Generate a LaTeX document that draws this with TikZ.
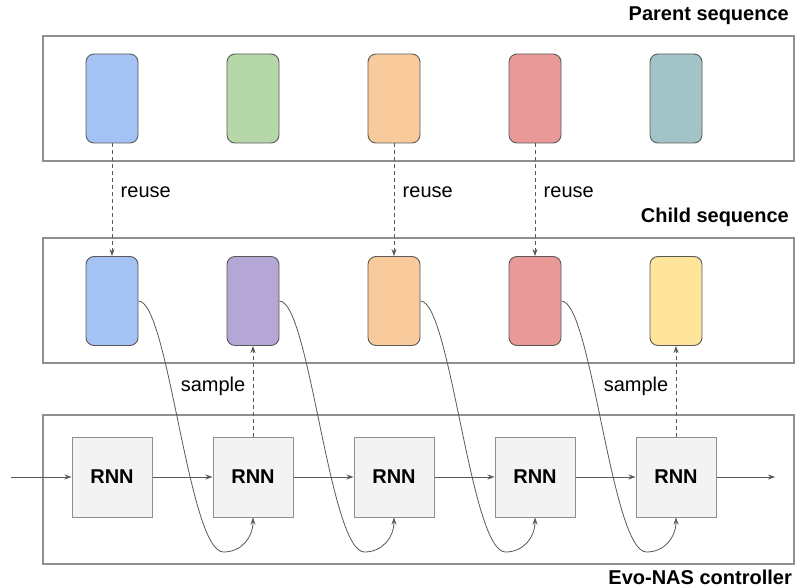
\documentclass[tikz,border=0pt]{standalone}
\usepackage{fontspec}
\setmainfont{Liberation Sans}
\usetikzlibrary{arrows.meta}
\definecolor{cblue}{HTML}{A4C2F4}
\definecolor{cgreen}{HTML}{B6D7A8}
\definecolor{corange}{HTML}{F9CB9C}
\definecolor{cred}{HTML}{EA9999}
\definecolor{cteal}{HTML}{A2C4C9}
\definecolor{cpurple}{HTML}{B4A7D6}
\definecolor{cyellow}{HTML}{FFE599}
\definecolor{rnnfill}{HTML}{F3F3F3}
\definecolor{linegray}{HTML}{595959}
\definecolor{framegray}{HTML}{8F8F8F}
\tikzset{
  frame/.style={draw=framegray, line width=1.2pt},
  cell/.style={draw=linegray, line width=0.9pt, rounded corners=8pt, minimum width=52pt, minimum height=89pt, inner sep=0pt},
  rnn/.style={draw=framegray, fill=rnnfill, line width=1pt, minimum size=80pt, inner sep=0pt, font=\fontsize{20}{24}\selectfont\bfseries},
  title/.style={anchor=east, inner sep=0pt, font=\fontsize{20}{24}\selectfont\bfseries},
  arr/.style={draw=linegray, line width=0.8pt, -{Stealth[length=7pt,width=5pt]}},
  dasharr/.style={arr, dash pattern=on 4pt off 3pt}
}
\begin{document}
\begin{tikzpicture}[x=1pt,y=-1pt,font=\fontsize{20}{24}\selectfont]
\useasboundingbox (0,0) rectangle (795,588);
\draw[frame] (43,36) rectangle (794,161);
\draw[frame] (43,238) rectangle (794,363);
\draw[frame] (43,415) rectangle (794,564);
\node[title] (ptitle) at (789,16) {Parent sequence};
\node[title] (ctitle) at (789,217) {Child sequence};
\node[title] (etitle) at (792,577) {Evo-NAS controller};
\foreach \i/\pc/\cc in {1/cblue/cblue,2/cgreen/cpurple,3/corange/corange,4/cred/cred,5/cteal/cyellow}{
\node[cell, fill=\pc] (p\i) at ({112+(\i-1)*141},98.5) {};
\node[cell, fill=\cc] (c\i) at ({112+(\i-1)*141},301) {};
\node[rnn] (r\i) at ({112+(\i-1)*141},477) {RNN};
}
\foreach \i in {1,3,4}
\draw[dasharr] (p\i) -- (c\i) node[pos=0.43, right=5pt] {reuse};
\foreach \i in {2,5}
\draw[dasharr] (r\i) -- (c\i) node[pos=0.55, left=4pt] {sample};
\coordinate (in) at (11,477);
\coordinate (out) at (775,477);
\draw[arr] (in) -- (r1);
\draw[arr] (r5) -- (out);
\foreach \i [evaluate=\i as \j using int(\i+1)] in {1,...,4}{
\draw[arr] (r\i) -- (r\j);
\draw[arr] (c\i.east) .. controls +(30,0) and +(-35,0) .. ++(85,251) coordinate (b\i)
  .. controls +(18,0) and +(0,20) .. (r\j.south);
}
%\draw[step=10pt, very thin] (0,0) grid (795,588);
\end{tikzpicture}
\end{document}
